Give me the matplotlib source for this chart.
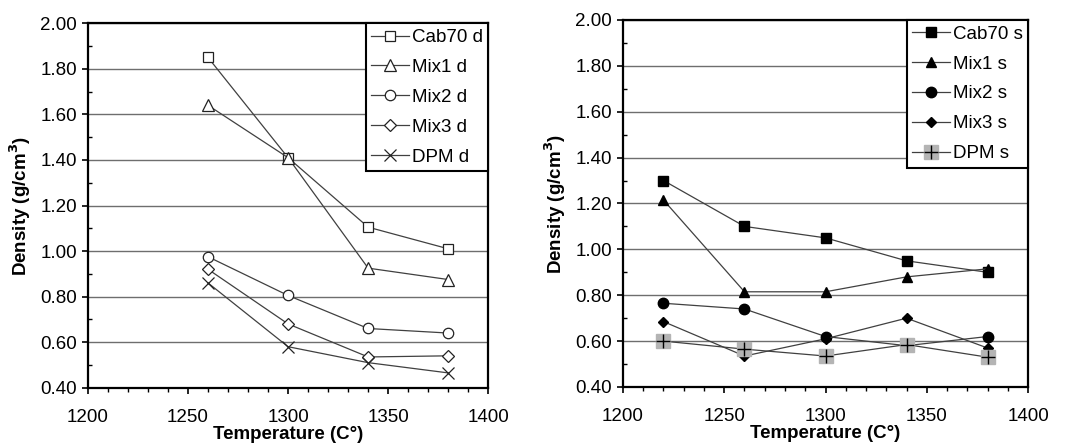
import matplotlib
matplotlib.use("Agg")
import matplotlib.pyplot as plt
from matplotlib.ticker import MultipleLocator, FormatStrFormatter
from matplotlib.legend_handler import HandlerTuple

plt.rcParams['font.family'] = ['Liberation Sans', 'DejaVu Sans']

# Left panel (d)
temps_d = [1260, 1300, 1340, 1380]
cab70_d = [1.85, 1.41, 1.105, 1.01]
mix1_d = [1.64, 1.41, 0.925, 0.875]
mix2_d = [0.975, 0.805, 0.66, 0.64]
mix3_d = [0.92, 0.68, 0.535, 0.54]
dpm_d = [0.86, 0.58, 0.51, 0.465]

# Right panel (s)
temps_s = [1220, 1260, 1300, 1340, 1380]
cab70_s = [1.30, 1.10, 1.05, 0.95, 0.90]
mix1_s = [1.215, 0.815, 0.815, 0.88, 0.915]
mix2_s = [0.765, 0.74, 0.62, 0.58, 0.62]
mix3_s = [0.685, 0.535, 0.61, 0.70, 0.57]
dpm_s = [0.60, 0.565, 0.535, 0.585, 0.53]

labels_d = ["Cab70 d", "Mix1 d", "Mix2 d", "Mix3 d", "DPM d"]
labels_s = ["Cab70 s", "Mix1 s", "Mix2 s", "Mix3 s", "DPM s"]

fig = plt.figure(figsize=(10.66, 4.46), dpi=100)
ax1 = fig.add_axes([0.0825, 0.1307, 0.3755, 0.817])
ax2 = fig.add_axes([0.5844, 0.1323, 0.380, 0.823])

LC = '#404040'
LW = 0.9
FS = 13.5


def style(ax):
    ax.set_xlim(1200, 1400)
    ax.set_ylim(0.4, 2.0)
    ax.xaxis.set_major_locator(MultipleLocator(50))
    ax.xaxis.set_minor_locator(MultipleLocator(10))
    ax.yaxis.set_major_locator(MultipleLocator(0.2))
    ax.yaxis.set_minor_locator(MultipleLocator(0.1))
    ax.yaxis.set_major_formatter(FormatStrFormatter('%.2f'))
    ax.grid(True, which='major', axis='y', color='#6e6e6e', lw=1.0)
    ax.set_axisbelow(True)
    for s in ax.spines.values():
        s.set_linewidth(1.6)
        s.set_color('black')
    ax.tick_params(axis='both', which='major', labelsize=FS, width=1.2, length=4,
                   direction='out')
    ax.tick_params(axis='x', which='major', pad=11)
    ax.tick_params(axis='y', which='major', pad=4)
    ax.tick_params(axis='x', which='minor', width=1.0, length=3, direction='out')
    ax.tick_params(axis='y', which='minor', width=1.0, length=3, direction='in')
    ax.set_xlabel('Temperature (C°)', fontsize=FS, fontweight='bold', labelpad=0)
    ax.set_ylabel('Density (g/cm$^\\mathbf{3}$)', fontsize=FS, fontweight='bold', labelpad=5)


style(ax1)
style(ax2)

common = dict(color=LC, lw=LW, markeredgecolor='#222222', markeredgewidth=0.9)
h1 = []
h1.append(ax1.plot(temps_d, cab70_d, marker='s', ms=7.5, mfc='white', **common)[0])
h1.append(ax1.plot(temps_d, mix1_d, marker='^', ms=8, mfc='white', **common)[0])
h1.append(ax1.plot(temps_d, mix2_d, marker='o', ms=7.5, mfc='white', **common)[0])
h1.append(ax1.plot(temps_d, mix3_d, marker='D', ms=6, mfc='white', **common)[0])
h1.append(ax1.plot(temps_d, dpm_d, marker='x', ms=8, mfc='white', **common)[0])

leg_kw = dict(loc='upper right', bbox_to_anchor=(1.0, 1.0),
              fontsize=FS, handlelength=2.0, handletextpad=0.15,
              labelspacing=0.68, borderpad=0.3, borderaxespad=0,
              fancybox=False, framealpha=1, edgecolor='black')

leg1 = ax1.legend(h1, labels_d, **leg_kw)
leg1.get_frame().set_linewidth(1.5)

commonf = dict(color=LC, lw=LW, markeredgecolor='black', markerfacecolor='black')
h2 = []
h2.append(ax2.plot(temps_s, cab70_s, marker='s', ms=7, zorder=3, **commonf)[0])
h2.append(ax2.plot(temps_s, mix1_s, marker='^', ms=7.5, zorder=3, **commonf)[0])
h2.append(ax2.plot(temps_s, mix2_s, marker='o', ms=7.5, zorder=3, **commonf)[0])
h2.append(ax2.plot(temps_s, mix3_s, marker='D', ms=5.5, zorder=3, **commonf)[0])
sq = ax2.plot(temps_s, dpm_s, marker='s', ms=10, color=LC, lw=LW,
              mfc='#b4b4b4', mec='#b4b4b4', zorder=4)[0]
pl = ax2.plot(temps_s, dpm_s, marker='+', ms=10, lw=0, mec='black',
              mew=1.0, zorder=5)[0]
h2.append((sq, pl))

leg2 = ax2.legend(h2, labels_s, handler_map={tuple: HandlerTuple(ndivide=1, pad=0)},
                  **leg_kw)
leg2.get_frame().set_linewidth(1.5)

fig.savefig('out.png', dpi=100, facecolor='white')
